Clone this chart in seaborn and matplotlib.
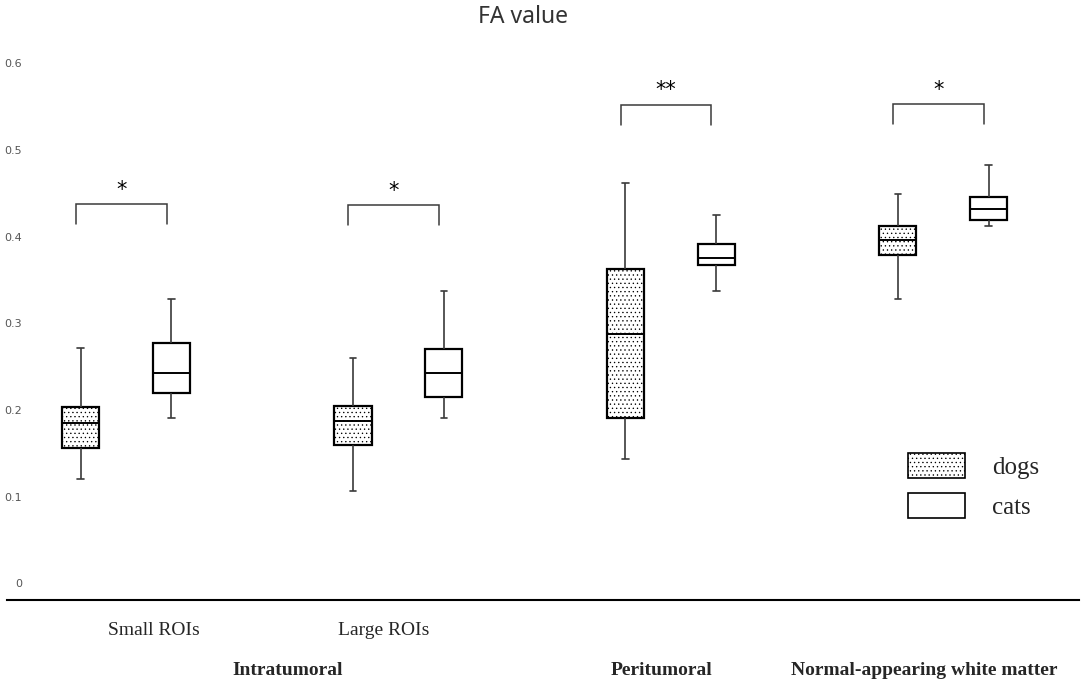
import numpy as np
import pandas as pd
import matplotlib
matplotlib.use("Agg")
import matplotlib.pyplot as plt
from matplotlib.patches import Patch
import seaborn as sns

# ---------------- data (five-number summaries) ----------------
regions = ["Small ROIs", "Large ROIs", "Peritumoral", "NAWM"]
species = ["dogs", "cats"]

# min, Q1, median, Q3, max
dogs_small = [0.120, 0.156, 0.1845, 0.203, 0.2715]
cats_small = [0.1905, 0.219, 0.243, 0.277, 0.328]
dogs_large = [0.107, 0.159, 0.187, 0.2045, 0.260]
cats_large = [0.191, 0.215, 0.243, 0.2705, 0.337]
dogs_peri = [0.143, 0.191, 0.2875, 0.362, 0.462]
cats_peri = [0.3375, 0.367, 0.375, 0.391, 0.425]
dogs_nawm = [0.328, 0.379, 0.396, 0.4125, 0.449]
cats_nawm = [0.4125, 0.4185, 0.4315, 0.4455, 0.4825]

sub_labels = ["Small ROIs", "Large ROIs"]
group_labels = ["Intratumoral", "Peritumoral", "Normal-appearing white matter"]
sig_labels = ["*", "*", "**", "*"]
sig_tops = [0.437, 0.436, 0.552, 0.553]
ytick_values = [0, 0.1, 0.2, 0.3, 0.4, 0.5, 0.6]
ytick_labels = ["0", "0.1", "0.2", "0.3", "0.4", "0.5", "0.6"]

series = {
    ("Small ROIs", "dogs"): dogs_small, ("Small ROIs", "cats"): cats_small,
    ("Large ROIs", "dogs"): dogs_large, ("Large ROIs", "cats"): cats_large,
    ("Peritumoral", "dogs"): dogs_peri, ("Peritumoral", "cats"): cats_peri,
    ("NAWM", "dogs"): dogs_nawm, ("NAWM", "cats"): cats_nawm,
}
rows = []
for (reg, sp), vals in series.items():
    for v in vals:
        rows.append({"region": reg, "species": sp, "value": v})
df = pd.DataFrame(rows)

# ---------------- style ----------------
sns.set_style("white")
plt.rcParams["font.family"] = ["DejaVu Sans"]
plt.rcParams["hatch.linewidth"] = 0.45
W, H = 1084, 687
fig = plt.figure(figsize=(W / 100, H / 100), dpi=100)
ax = fig.add_axes([7 / W, 87 / H, (1079 - 7) / W, 560 / H])

line_col = "#3a3a3a"
sns.boxplot(
    data=df, x="region", y="value", hue="species",
    order=regions, hue_order=species,
    palette={"dogs": "white", "cats": "white"},
    width=0.667, gap=0.592, whis=(0, 100), dodge=True,
    linecolor="black", linewidth=1.5, fliersize=0, legend=False,
    boxprops=dict(linewidth=1.6, edgecolor="black"),
    medianprops=dict(color="black", linewidth=1.4),
    whiskerprops=dict(color=line_col, linewidth=1.2),
    capprops=dict(color=line_col, linewidth=1.2),
    capwidths=0.024,
    ax=ax,
)

HATCH = "...."
for p in ax.patches:
    v = p.get_path().vertices
    cx = (v[:, 0].min() + v[:, 0].max()) / 2
    if cx - round(cx) < 0:
        p.set_hatch(HATCH)
        p.set_edgecolor("black")

ax.set_xlim(-0.437, 3.4985)
ax.set_ylim(-0.0193, 0.6267)
ax.set_xticks([])
ax.set_xlabel("")
ax.set_ylabel("")
ax.set_yticks(ytick_values)
ax.set_yticklabels(ytick_labels)
ax.tick_params(axis="y", length=0, pad=-10.8, labelsize=8, labelcolor="#555555")
for s in ["left", "right", "top"]:
    ax.spines[s].set_visible(False)
ax.spines["bottom"].set_color("black")
ax.spines["bottom"].set_linewidth(1.5)

# significance brackets
off = 0.1667
for i, (lab, top) in enumerate(zip(sig_labels, sig_tops)):
    x1, x2 = i - off - 0.018, i + off - 0.018
    ax.plot([x1, x1, x2, x2], [top - 0.023, top, top, top - 0.023],
            color=line_col, lw=1.1, solid_joinstyle="miter")
    ax.text((x1 + x2) / 2, top + 0.0165, lab,
            ha="center", va="center", fontsize=15, color="black",
            family=["DejaVu Sans"])

# category labels
serif = ["Liberation Serif", "DejaVu Serif"]
for xpos, lab in zip([0.103, 0.947], sub_labels):
    ax.text(xpos, -0.055, lab, ha="center", va="center", fontsize=14,
            family=serif, clip_on=False)
for xpos, lab in zip([0.593, 1.965, 2.93], group_labels):
    ax.text(xpos, -0.1003, lab, ha="center", va="center", fontsize=14,
            fontweight="bold", family=serif, clip_on=False)

# legend
handles = [Patch(facecolor="white", edgecolor="black", hatch=HATCH, lw=1.2),
           Patch(facecolor="white", edgecolor="black", lw=1.2)]
ax.legend(handles, species, loc="upper left",
          bbox_to_anchor=(908 / W, 1 - 453 / H), bbox_transform=fig.transFigure,
          frameon=False, borderpad=0, borderaxespad=0,
          handlelength=2.28, handleheight=1.16, labelspacing=0.56,
          handletextpad=1.08, prop={"family": serif, "size": 18})

fig.text(523 / W, 1 - 17 / H, "FA value", ha="center", va="center",
         fontsize=16.5, color="#333333", family=["Noto Sans", "DejaVu Sans"])

fig.savefig("out.png", dpi=100)
